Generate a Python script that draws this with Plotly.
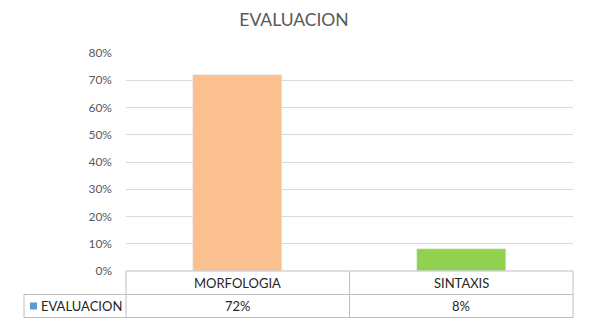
import plotly.graph_objects as go

categories = ["MORFOLOGIA", "SINTAXIS"]
values = [0.72, 0.08]
value_labels = ["72%", "8%"]
series_name = "EVALUACION"
bar_colors = ["#FAC090", "#92D050"]
tick_vals = [0, 0.1, 0.2, 0.3, 0.4, 0.5, 0.6, 0.7, 0.8]
tick_text = ["0%", "10%", "20%", "30%", "40%", "50%", "60%", "70%", "80%"]

FONT = "Lato"
GREY = "#595959"
TXT = "#262626"
BORDER = "#BFBFBF"

fig = go.Figure()
fig.add_trace(go.Bar(x=list(range(len(categories))), y=values, marker_color=bar_colors,
                     width=0.398, name=series_name, showlegend=False))

W, H = 594, 322
L, R, T, B = 126, 21, 53, 51
pw = W - L - R
ph = H - T - B
row1 = -23.5 / ph
row2 = -46.5 / ph
left_x = (24 - L) / pw

shapes = []
line = dict(color=BORDER, width=1)
n = len(categories)
shapes.append(dict(type="line", xref="paper", yref="paper", x0=0, x1=1, y0=0, y1=0, line=line))
shapes.append(dict(type="line", xref="paper", yref="paper", x0=left_x, x1=1, y0=row1, y1=row1, line=line))
shapes.append(dict(type="line", xref="paper", yref="paper", x0=left_x, x1=1, y0=row2, y1=row2, line=line))
for i in range(n + 1):
    xp = i / n
    shapes.append(dict(type="line", xref="paper", yref="paper", x0=xp, x1=xp, y0=row2, y1=0, line=line))
shapes.append(dict(type="line", xref="paper", yref="paper", x0=left_x, x1=left_x, y0=row2, y1=row1, line=line))
px_x = 1 / pw
px_y = 1 / ph
mid2 = (row1 + row2) / 2
shapes.append(dict(type="rect", xref="paper", yref="paper",
                   x0=left_x + 6 * px_x, x1=left_x + 13 * px_x,
                   y0=mid2 - 3.5 * px_y, y1=mid2 + 3.5 * px_y,
                   fillcolor="#5B9BD5", line=dict(width=0)))

annotations = []
for i, c in enumerate(categories):
    annotations.append(dict(x=(i + 0.5) / n, y=row1 / 2, xref="paper", yref="paper", text=c,
                            showarrow=False, xanchor="center", yanchor="middle",
                            font=dict(family=FONT, size=13, color=TXT)))
    annotations.append(dict(x=(i + 0.5) / n, y=mid2, xref="paper", yref="paper",
                            text=value_labels[i], showarrow=False, xanchor="center", yanchor="middle",
                            font=dict(family=FONT, size=13, color=TXT)))
annotations.append(dict(x=left_x + 15 * px_x, y=mid2, xref="paper", yref="paper",
                        text=series_name, showarrow=False, xanchor="left", yanchor="middle",
                        font=dict(family=FONT, size=13, color=TXT)))

fig.update_layout(
    width=W, height=H,
    margin=dict(l=L, r=R, t=T, b=B),
    paper_bgcolor="white", plot_bgcolor="white",
    title=dict(text="EVALUACION", x=0.495, xanchor="center", y=1 - 20 / H, yanchor="middle",
               font=dict(family=FONT, size=17.5, color=GREY)),
    xaxis=dict(range=[-0.5, n - 0.5], showticklabels=False, showgrid=False, zeroline=False,
               fixedrange=True),
    yaxis=dict(range=[0, 0.8], tickvals=tick_vals, ticktext=tick_text, showgrid=True,
               gridcolor="#D9D9D9", gridwidth=1, zeroline=False, ticks="",
               tickfont=dict(family=FONT, size=12, color=GREY), ticklabelstandoff=13),
    shapes=shapes, annotations=annotations,
    bargap=0,
)

fig.write_html("out.html")
